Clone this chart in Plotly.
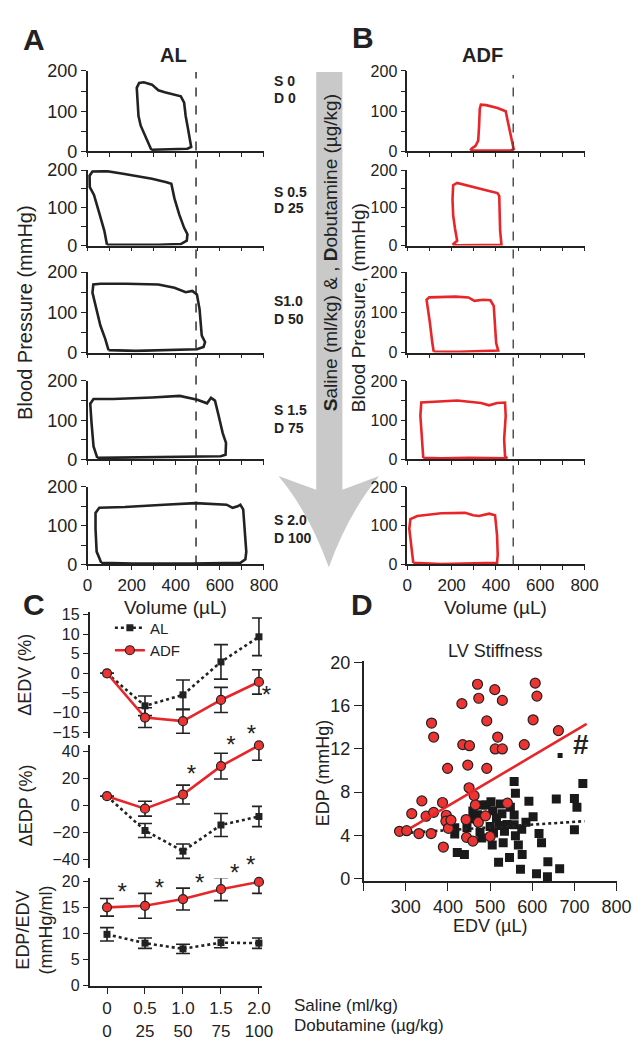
import plotly.graph_objects as go

# ---------------- DATA ----------------
# Panel A (AL) pressure-volume loops: volume (µL) / pressure (mmHg)
al_s0_vol = [289, 277, 260, 241, 231, 226, 223, 234, 255, 292, 321, 350, 387, 423, 438, 445, 456, 464, 470, 453, 394, 336, 289]
al_s0_p = [4, 19, 43, 64, 88, 129, 158, 170, 172, 166, 152, 147, 141, 137, 121, 88, 55, 31, 11, 6.5, 5, 4, 4]
al_s05_vol = [88, 76, 51, 29, 10, 9, 22, 88, 161, 219, 292, 358, 380, 394, 416, 438, 453, 450, 423, 321, 175, 88]
al_s05_p = [2, 39, 90, 134, 155, 185, 196, 197, 190, 185, 177, 168, 164, 125, 82, 47, 30, 13, 4, 2, 2, 2]
al_s10_vol = [95, 80, 58, 37, 22, 26, 58, 175, 321, 394, 445, 475, 496, 508, 514, 518, 533, 526, 496, 365, 219, 95]
al_s10_p = [6, 34, 67, 116, 149, 169, 171, 171, 169, 161, 150, 153, 144, 108, 67, 42, 26, 14, 8, 6, 4, 6]
al_s15_vol = [44, 27, 18, 12, 27, 116, 293, 418, 498, 542, 560, 578, 596, 613, 628, 626, 604, 382, 116, 44]
al_s15_p = [4, 33, 92, 142, 154, 154, 158, 162, 152, 143, 157, 150, 108, 67, 42, 12, 8, 6, 4, 4]
al_s20_vol = [62, 41, 36, 36, 53, 169, 347, 489, 631, 658, 681, 693, 706, 711, 720, 716, 693, 471, 204, 62]
al_s20_p = [4, 33, 92, 133, 146, 148, 154, 158, 154, 146, 150, 154, 142, 92, 33, 13, 4, 2.5, 2, 4]

# Panel B (ADF) pressure-volume loops
adf_s0_vol = [284, 291, 308, 320, 324, 327, 332, 356, 407, 444, 454, 465, 477, 480, 465, 378, 320, 284]
adf_s0_p = [2, 7.5, 14, 27, 64, 106, 116, 115, 108, 100, 73, 44, 18, 6, 2, 2, 1, 2]
adf_s05_vol = [204, 225, 215, 207, 204, 207, 225, 262, 335, 378, 407, 415, 417, 419, 425, 335, 233, 204]
adf_s05_p = [2, 13, 46, 80, 122, 160, 166, 160, 149, 143, 139, 131, 80, 38, 2, 1, 1, 2]
adf_s10_vol = [119, 113, 102, 95, 87, 99, 145, 218, 276, 303, 342, 375, 390, 396, 401, 410, 349, 233, 119]
adf_s10_p = [2.5, 23.5, 74, 107.5, 131, 137, 138, 139, 137, 128.5, 131, 130, 116, 65.5, 23.5, 5, 3.4, 1.7, 2.5]
adf_s15_vol = [72, 67, 59, 63, 117, 225, 333, 369, 405, 441, 444, 437, 441, 450, 279, 153, 72]
adf_s15_p = [4, 51, 111, 145, 147, 150, 144, 138, 144, 145, 111, 51, 8.5, 2.6, 4, 2.6, 4]
adf_s20_vol = [27, 18, 9, 14, 45, 153, 261, 297, 324, 369, 396, 405, 408, 405, 279, 153, 27]
adf_s20_p = [4, 42, 92, 117, 125, 132, 133, 127, 125, 131, 127, 75, 25, 4, 1.7, 0.8, 4]

al_ref_volume = 492   # dashed reference line, AL
adf_ref_volume = 478  # dashed reference line, ADF

dose_labels_S = ["S 0", "S 0.5", "S1.0", "S 1.5", "S 2.0"]
dose_labels_D = ["D 0", "D 25", "D 50", "D 75", "D 100"]

vol_ticks = [0, 100, 200, 300, 400, 500, 600, 700, 800]
vol_ticktext = ["0", "", "200", "", "400", "", "600", "", "800"]
bp_ticks = [0, 50, 100, 150, 200]
bp_ticktext = ["0", "", "100", "", "200"]

# Panel C
doses = [0, 0.5, 1.0, 1.5, 2.0]
dose_ticktext = ["0<br>0", "0.5<br>25", "1.0<br>50", "1.5<br>75", "2.0<br>100"]
dedv_al = [0, -8.3, -5.5, 2.9, 9.3]
dedv_al_err = [0, 2.5, 3.8, 4.4, 4.8]
dedv_adf = [0, -11.3, -12.2, -6.8, -2.2]
dedv_adf_err = [0, 2.5, 3.1, 3.2, 3.1]
dedp_al = [7.0, -18.4, -33.7, -14.3, -8.0]
dedp_al_err = [0, 5.2, 5.3, 8.5, 7.5]
dedp_adf = [7.0, -2.2, 8.2, 29.3, 44.6]
dedp_adf_err = [0, 5.5, 7.0, 9.5, 11.0]
ratio_al = [9.8, 8.1, 7.0, 8.2, 8.1]
ratio_al_err = [1.3, 1.0, 0.9, 1.0, 1.0]
ratio_adf = [15.0, 15.3, 16.6, 18.5, 19.9]
ratio_adf_err = [1.7, 2.4, 2.1, 2.2, 2.2]
dedv_star_x = [2.1]
dedv_star_y = [-6.0]
dedp_star_x = [1.11, 1.63, 1.9]
dedp_star_y = [21.8, 43.6, 51.6]
ratio_star_x = [0.2, 0.69, 1.22, 1.68, 1.89]
ratio_star_y = [17.5, 18.3, 19.4, 21.3, 22.8]

# Panel D
red_edv = [285, 302, 314, 331, 338, 348, 360, 361, 366, 366, 387, 389, 396, 395, 399, 401, 407, 433, 435, 443,
           444, 447, 451, 450, 459, 462, 465, 470, 473, 472, 489, 492, 492, 500, 511, 518, 512, 529, 529, 541,
           581, 602, 607, 611, 662]
red_edp = [4.36, 4.42, 6.0, 4.15, 7.18, 5.76, 4.15, 14.4, 13.1, 6.12, 7.03, 2.9, 5.85, 5.3, 10.2, 4.64, 5.4, 16.2, 12.4, 5.45,
           3.8, 10.5, 12.3, 8.4, 3.45, 7.67, 6.8, 18.0, 16.7, 5.2, 5.8, 14.6, 10.2, 3.88, 17.5, 13.1, 12.0, 12.0, 16.5, 6.97,
           12.4, 14.7, 18.1, 16.9, 13.7]
black_edv = [416, 416, 422, 439, 445, 459, 462, 476, 480, 482, 502, 500, 505, 506, 508, 521, 520, 528, 531, 534,
             524, 546, 557, 557, 557, 560, 560, 567, 575, 572, 576, 592, 602, 610, 616, 622, 636, 637, 657, 665,
             700, 700, 706, 720, 470, 490, 515, 540, 548, 585]
black_edp = [4.7, 4.1, 2.4, 2.2, 4.7, 6.24, 5.5, 4.27, 3.75, 6.8, 7.1, 4.8, 3.1, 6.27, 4.2, 4.9, 1.5, 6.0, 3.3, 4.36,
             6.9, 1.94, 8.97, 5.88, 4.97, 7.9, 3.94, 3.1, 4.55, 0.85, 2.2, 7.15, 5.7, 0.42, 4.15, 3.3, 0.15, 1.54, 7.36, 0.88,
             7.4, 4.5, 6.6, 8.8, 5.9, 6.8, 5.6, 5.0, 6.6, 5.2]
black_small_edv = [666]
black_small_edp = [11.4]
red_fit_edv = [312, 729]
red_fit_edp = [4.67, 14.33]
black_fit_edv = [311, 724]
black_fit_edp = [4.24, 5.3]
d_xticks = [200, 300, 400, 500, 600, 700, 800]
d_xticktext = ["", "300", "400", "500", "600", "700", "800"]
d_yticks = [0, 4, 8, 12, 16, 20]

# ---------------- STYLE / LAYOUT ----------------
W, H = 641, 1050
FONT = "Liberation Sans, Arial, sans-serif"
INK = "#222222"
RED = "#e8262a"
RED_FILL = "#ee3333"
GRAY = "#c9c9c9"


def fx(a, b):
    return [a / W, b / W]


def fy(top, bottom):
    return [1 - bottom / H, 1 - top / H]


def px(x, y):
    return f"{x / W:.5f},{1 - y / H:.5f}"


base_axis = dict(showline=True, linecolor=INK, linewidth=1.6, ticks="outside", tickcolor=INK,
                 tickwidth=1.4, showgrid=False, zeroline=False, fixedrange=True)

fig = go.Figure()
layout = {}

panel_rows = [(54, 136), (155, 232), (259, 341), (370, 450), (478, 557)]
al_loops = [(al_s0_vol, al_s0_p), (al_s05_vol, al_s05_p), (al_s10_vol, al_s10_p),
            (al_s15_vol, al_s15_p), (al_s20_vol, al_s20_p)]
adf_loops = [(adf_s0_vol, adf_s0_p), (adf_s05_vol, adf_s05_p), (adf_s10_vol, adf_s10_p),
             (adf_s15_vol, adf_s15_p), (adf_s20_vol, adf_s20_p)]

for group, (loops, xl, color, tickfont) in enumerate([
        (al_loops, (77, 259), INK, dict(size=18, family=FONT, color=INK)),
        (adf_loops, (407, 590), RED, dict(size=16, family=FONT, color=INK))]):
    for i, ((v, p), (top, bot)) in enumerate(zip(loops, panel_rows)):
        n = group * 5 + i + 1
        last = i == 4
        layout[f"xaxis{n}"] = dict(base_axis, domain=fx(*xl), range=[0, 800], anchor=f"y{n}",
                                   tickvals=vol_ticks, ticktext=vol_ticktext if last else [""] * 9,
                                   ticklen=4, tickfont=dict(size=17, family=FONT, color=INK))
        layout[f"yaxis{n}"] = dict(base_axis, domain=fy(top, bot), range=[0, 200], anchor=f"x{n}",
                                   tickvals=bp_ticks, ticktext=bp_ticktext, ticklen=5, tickfont=tickfont)
        fig.add_trace(go.Scatter(x=v, y=p, mode="lines", line=dict(color=color, width=2.6),
                                 xaxis=f"x{n}", yaxis=f"y{n}", showlegend=False, hoverinfo="skip"))

# ---- Panel C ----
c_x = (79, 257)
c_xrange = [-0.23, 2.04]
c_rows = [((606, 734), [-16.5, 15.5], [-15, -10, -5, 0, 5, 10, 15]),
          ((741, 867), [-46.5, 45], [-40, -20, 0, 20, 40]),
          ((877, 987), [-0.2, 20.6], [0, 5, 10, 15, 20])]
c_series = [(dedv_al, dedv_al_err, dedv_adf, dedv_adf_err, dedv_star_x, dedv_star_y),
            (dedp_al, dedp_al_err, dedp_adf, dedp_adf_err, dedp_star_x, dedp_star_y),
            (ratio_al, ratio_al_err, ratio_adf, ratio_adf_err, ratio_star_x, ratio_star_y)]
PAD_TOP, PAD_RIGHT = 30, 20
for k, (((top, bot), yr, yt), (al, ale, adf, adfe, sx, sy)) in enumerate(zip(c_rows, c_series)):
    n = 11 + k
    bottom = k == 2
    layout[f"xaxis{n}"] = dict(base_axis, domain=fx(*c_x), range=c_xrange, anchor=f"y{n}",
                               tickvals=doses, ticktext=dose_ticktext, ticklen=6,
                               tickfont=dict(size=17, family=FONT, color=INK),
                               showline=bottom, showticklabels=bottom, ticks="outside" if bottom else "")
    layout[f"yaxis{n}"] = dict(base_axis, domain=fy(top, bot), range=yr, anchor=f"x{n}",
                               tickvals=yt, ticklen=5, tickfont=dict(size=16, family=FONT, color=INK))
    fig.add_trace(go.Scatter(x=doses, y=al, mode="lines+markers", name="AL",
                             line=dict(color=INK, width=2.6, dash="dot"),
                             marker=dict(symbol="square", size=7, color=INK),
                             error_y=dict(type="data", array=ale, color=INK, thickness=1.6, width=7),
                             xaxis=f"x{n}", yaxis=f"y{n}", showlegend=(k == 0), cliponaxis=False))
    fig.add_trace(go.Scatter(x=doses, y=adf, mode="lines+markers", name="ADF",
                             line=dict(color=RED, width=2.6),
                             marker=dict(symbol="circle", size=9, color=RED_FILL, line=dict(color=INK, width=1.2)),
                             error_y=dict(type="data", array=adfe, color=INK, thickness=1.6, width=7),
                             xaxis=f"x{n}", yaxis=f"y{n}", showlegend=(k == 0), cliponaxis=False))
    # significance stars live on an invisible companion axis with the same scale but a little more room
    sn = 15 + k
    y_per_px = (yr[1] - yr[0]) / (bot - top)
    x_per_px = (c_xrange[1] - c_xrange[0]) / (c_x[1] - c_x[0])
    layout[f"xaxis{sn}"] = dict(visible=False, domain=fx(c_x[0], c_x[1] + PAD_RIGHT), anchor=f"y{sn}",
                                range=[c_xrange[0], c_xrange[1] + PAD_RIGHT * x_per_px], fixedrange=True)
    layout[f"yaxis{sn}"] = dict(visible=False, domain=fy(top - PAD_TOP, bot), anchor=f"x{sn}",
                                range=[yr[0], yr[1] + PAD_TOP * y_per_px], fixedrange=True)
    fig.add_trace(go.Scatter(x=sx, y=sy, mode="text", text=["*"] * len(sx),
                             textfont=dict(size=24, family=FONT, color=INK), textposition="middle center",
                             xaxis=f"x{sn}", yaxis=f"y{sn}", showlegend=False, cliponaxis=False, hoverinfo="skip"))

# ---- Panel D ----
layout["xaxis14"] = dict(base_axis, domain=fx(362, 623), range=[200, 800], anchor="y14",
                         tickvals=d_xticks, ticktext=d_xticktext, ticklen=8,
                         tickfont=dict(size=18, family=FONT, color=INK))
layout["yaxis14"] = dict(base_axis, domain=fy(655, 880), range=[-0.27, 20.2], anchor="x14",
                         tickvals=d_yticks, ticklen=8, tickfont=dict(size=18, family=FONT, color=INK))
fig.add_trace(go.Scatter(x=black_edv, y=black_edp, mode="markers",
                         marker=dict(symbol="square", size=9, color="#1a1a1a"),
                         xaxis="x14", yaxis="y14", showlegend=False))
fig.add_trace(go.Scatter(x=black_small_edv, y=black_small_edp, mode="markers",
                         marker=dict(symbol="square", size=5, color="#1a1a1a"),
                         xaxis="x14", yaxis="y14", showlegend=False))
fig.add_trace(go.Scatter(x=black_fit_edv, y=black_fit_edp, mode="lines",
                         line=dict(color=INK, width=2.6, dash="dot"),
                         xaxis="x14", yaxis="y14", showlegend=False))
fig.add_trace(go.Scatter(x=red_edv, y=red_edp, mode="markers",
                         marker=dict(symbol="circle", size=10, color=RED_FILL, line=dict(color=INK, width=1.2)),
                         xaxis="x14", yaxis="y14", showlegend=False))
fig.add_trace(go.Scatter(x=red_fit_edv, y=red_fit_edp, mode="lines",
                         line=dict(color=RED, width=2.6),
                         xaxis="x14", yaxis="y14", showlegend=False))


# ---------------- TEXT ----------------
def ann(text, x, y, size, angle=0, xanchor="center", yanchor="middle", color=INK):
    return dict(text=text, x=x / W, y=1 - y / H, xref="paper", yref="paper", showarrow=False,
                textangle=angle, xanchor=xanchor, yanchor=yanchor,
                font=dict(size=size, family=FONT, color=color))


annotations = [
    ann("<b>A</b>", 22, 22, 30), ann("<b>B</b>", 361, 20, 30),
    ann("<b>C</b>", 22, 598, 30), ann("<b>D</b>", 360, 598, 30),
    ann("<b>AL</b>", 166, 38, 20), ann("<b>ADF</b>", 485, 38, 20),
    ann("Blood Pressure (mmHg)", 13, 300, 20, angle=-90),
    ann("Blood Pressure, (mmHg)", 357, 295, 19, angle=-90),
    ann("Volume (µL)", 168, 601, 19), ann("Volume (µL)", 498, 601, 19),
    ann("<b>S</b>aline (ml/kg) & , <b>D</b>obutamine (µg/kg)", 328, 239, 19, angle=-90),
    ann("ΔEDV (%)", 13, 670, 18, angle=-90),
    ann("ΔEDP (%)", 13, 803, 18, angle=-90),
    ann("EDP/EDV<br>(mmHg/ml)", 22, 930, 18, angle=-90),
    ann("Saline (ml/kg)", 288, 1007, 17, xanchor="left"),
    ann("Dobutamine (µg/kg)", 288, 1027, 17, xanchor="left"),
    ann("LV Stiffness", 498, 645, 18),
    ann("EDP (mmHg)", 320, 770, 18, angle=-90),
    ann("EDV (µL)", 492, 926, 18),
    ann("<b>#</b>", 586, 741, 28),
]
s_y = [(64, 82), (177, 194), (288, 307), (400, 418), (512, 530)]
for s, d, (ys, ydd) in zip(dose_labels_S, dose_labels_D, s_y):
    annotations.append(ann(f"<b>{s}</b>", 267, ys, 14, xanchor="left"))
    annotations.append(ann(f"<b>{d}</b>", 267, ydd, 14, xanchor="left"))

# ---------------- SHAPES ----------------
arrow_path = ("M " + px(313, 55) + " L " + px(313, 481) + " L " + px(274, 467) +
              " Q " + px(306, 505) + " " + px(326, 560) +
              " Q " + px(346, 505) + " " + px(378, 467) +
              " L " + px(340, 481) + " L " + px(340, 55) + " Z")
shapes = [
    dict(type="path", path=arrow_path, xref="paper", yref="paper", fillcolor=GRAY,
         line=dict(width=0), layer="below"),
    dict(type="line", xref="x", yref="paper", x0=al_ref_volume, x1=al_ref_volume,
         y0=1 - 557 / H, y1=1 - 55 / H, line=dict(color=INK, width=1.4, dash="dash")),
    dict(type="line", xref="x6", yref="paper", x0=adf_ref_volume, x1=adf_ref_volume,
         y0=1 - 557 / H, y1=1 - 58 / H, line=dict(color="#444", width=1.4, dash="dash")),
]

fig.update_layout(
    width=W, height=H, margin=dict(l=0, r=0, t=0, b=0),
    paper_bgcolor="white", plot_bgcolor="rgba(0,0,0,0)",
    font=dict(family=FONT, color=INK),
    showlegend=True,
    legend=dict(x=100 / W, y=1 - 605 / H, xanchor="left", yanchor="top", bgcolor="rgba(0,0,0,0)",
                font=dict(size=15, family=FONT, color=INK), tracegroupgap=0, itemwidth=30),
    annotations=annotations, shapes=shapes, **layout)

fig.write_html("out.html")
